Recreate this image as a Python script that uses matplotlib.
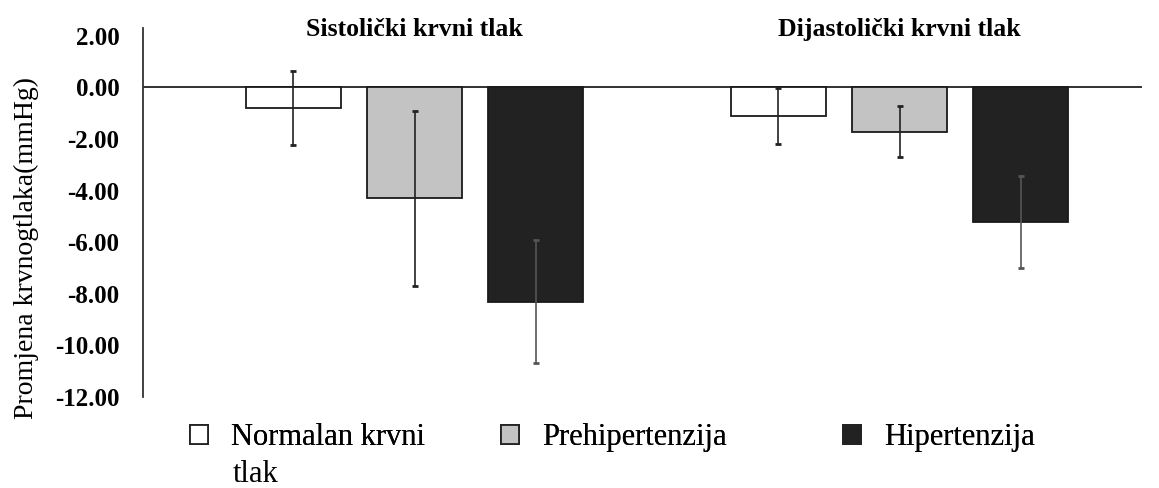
import numpy as np
import matplotlib.pyplot as plt
from matplotlib.patches import Patch

groups = ['Sistolički krvni tlak', 'Dijastolički krvni tlak']
series = ['Normalan krvni', 'Prehipertenzija', 'Hipertenzija']
values = {
    'Normalan krvni': [-0.80, -1.12],
    'Prehipertenzija': [-4.30, -1.71],
    'Hipertenzija': [-8.30, -5.22],
}
errors = {
    'Normalan krvni': [1.45, 1.08],
    'Prehipertenzija': [3.39, 1.00],
    'Hipertenzija': [2.37, 1.77],
}
colors = ['white', '#c3c3c3', '#222222']
yticks = [2, 0, -2, -4, -6, -8, -10, -12]

plt.rcParams['font.family'] = ['Liberation Serif', 'DejaVu Serif']

fig = plt.figure(figsize=(11.59, 4.88), dpi=100)
ax = fig.add_axes([0.1234, 0.1865, 0.862, 0.756])

x = np.arange(len(groups))
width = 0.196
offsets = [-0.25, 0, 0.25]
for name, off, col in zip(series, offsets, colors):
    ecol = '#555555' if col == '#222222' else '#222222'
    ax.bar(x + off, values[name], width, color=col, edgecolor='#1a1a1a', linewidth=1.3, zorder=2)
    ax.errorbar(x + off, values[name], yerr=errors[name], fmt='none', ecolor=ecol,
                elinewidth=1.2, capsize=2.5, capthick=2, zorder=3)

ax.axhline(0, color='#222222', linewidth=1.3, zorder=1)
ax.set_xlim(-0.56, 1.50)
ax.set_ylim(-12, 2.3)
ax.set_yticks(yticks)
ax.set_yticklabels(['%.2f' % v for v in yticks], fontsize=18, fontweight='bold')
ax.tick_params(axis='y', length=0, pad=17)
ax.set_xticks([])
for s in ['top', 'right', 'bottom']:
    ax.spines[s].set_visible(False)
ax.spines['left'].set_color('#333333')
ax.spines['left'].set_linewidth(1.3)
ax.set_ylabel('Promjena krvnogtlaka(mmHg)', fontsize=20)
ax.yaxis.set_label_coords(-0.104, 0.404)

for xi, g in zip(x, groups):
    ax.text(xi, 2.25, g, ha='center', va='center', fontsize=18.5, fontweight='bold', clip_on=False)

# one legend per entry, placed like the original
leg_x = [0.1639, 0.4323, 0.7274]
leg_y = 0.1025
for name, col, lx in zip(series, colors, leg_x):
    leg = fig.legend([Patch(facecolor=col, edgecolor='#222222', linewidth=1.3)], [name],
                     loc='center left', bbox_to_anchor=(lx, leg_y), frameon=False,
                     fontsize=22, handlelength=0.6, handleheight=0.6, handletextpad=0.75,
                     borderpad=0, borderaxespad=0)
    fig.add_artist(leg)
fig.text(0.201, 0.013, 'tlak', fontsize=22, ha='left', va='baseline')

fig.savefig('out.png', dpi=100)
